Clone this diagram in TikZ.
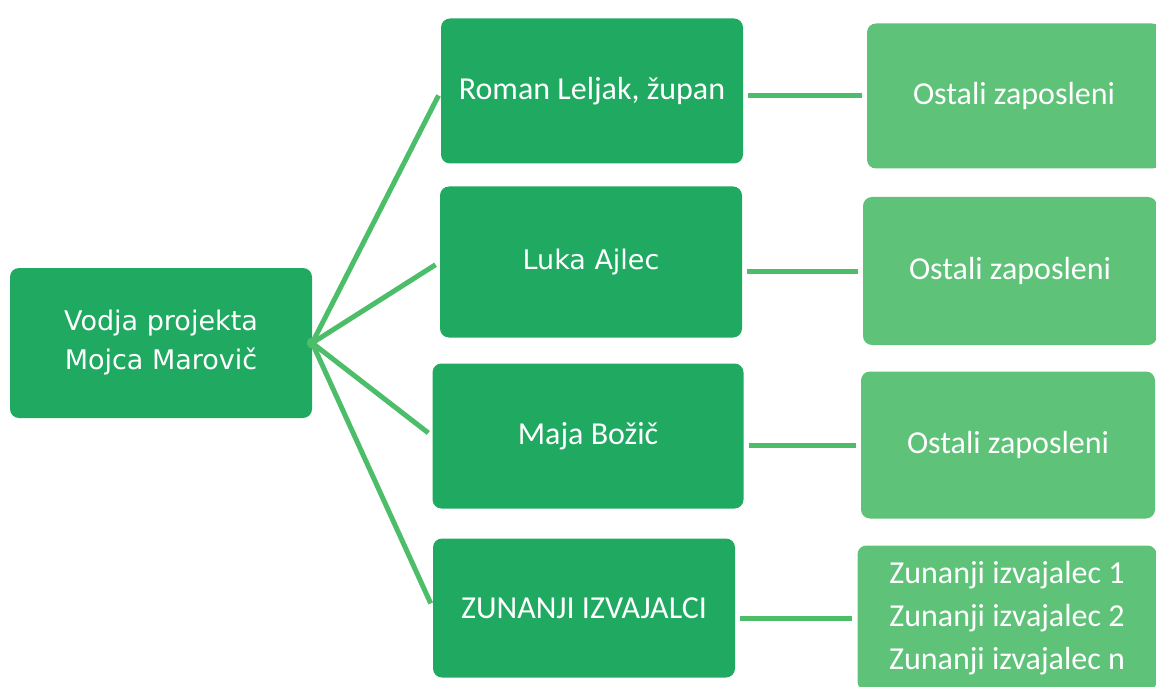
\documentclass[tikz,border=0pt]{standalone}
\usepackage{fontspec}
\setmainfont{Carlito}
\newfontfamily\leadfont{DejaVu Sans}
\definecolor{boxdark}{RGB}{31,169,97}
\definecolor{boxlight}{RGB}{94,194,120}
\definecolor{linkgreen}{RGB}{76,190,105}

\begin{document}
\begin{tikzpicture}[x=1pt, y=-1pt,
    leadbox/.style={fill=boxdark, rounded corners=9pt, text=white, inner sep=0pt,
      minimum width=302pt, minimum height=150pt, align=center,
      font=\leadfont\fontsize{27}{39}\selectfont},
    personbox/.style={fill=boxdark, rounded corners=9pt, text=white, inner sep=0pt,
      minimum width=302pt, minimum height=145pt, align=center,
      font=\fontsize{32}{43}\selectfont},
    staffbox/.style={fill=boxlight, rounded corners=9pt, text=white, inner sep=0pt,
      minimum width=294pt, minimum height=145pt, align=center,
      font=\fontsize{32}{43}\selectfont},
    link/.style={draw=linkgreen, line width=5pt, shorten <=5pt, shorten >=5pt}]
    \useasboundingbox (0,0) rectangle (1156,687);
    % vodja
    \node[leadbox] (lead) at (161,343) {Vodja projekta\\Mojca Marovič};
    % sodelavci
    \node[personbox] (roman) at (592,91) {Roman Leljak, župan};
    \node[personbox, minimum height=151pt] (luka) at (591,262) {\leadfont\fontsize{27}{39}\selectfont Luka Ajlec};
    \node[personbox, minimum width=311pt] (maja) at (588,436) {Maja Božič};
    \node[personbox, minimum height=139pt] (zun) at (584,608) {ZUNANJI IZVAJALCI};
    % ostali
    \node[staffbox] (ost1) at (1014,96) {Ostali zaposleni};
    \node[staffbox, minimum height=148pt] (ost2) at (1010,271) {Ostali zaposleni};
    \node[staffbox, minimum height=147pt] (ost3) at (1008,445) {Ostali zaposleni};
    \node[staffbox, minimum width=299pt] (izv) at (1007,618) {Zunanji izvajalec 1\\Zunanji izvajalec 2\\Zunanji izvajalec n};
    % povezave
    \draw[link, shorten <=-5pt] (lead.east) -- (roman.west);
    \draw[link, shorten <=-5pt] (lead.east) -- (luka.west);
    \draw[link, shorten <=-5pt] (lead.east) -- (maja.west);
    \draw[link, shorten <=-5pt] (lead.east) -- (zun.west);
    \draw[link] (roman.east |- ost1.west) -- (ost1.west);
    \draw[link] (luka.east |- ost2.west) -- (ost2.west);
    \draw[link] (maja.east |- ost3.west) -- (ost3.west);
    \draw[link] (zun.east |- izv.west) -- (izv.west);
\end{tikzpicture}
\end{document}
